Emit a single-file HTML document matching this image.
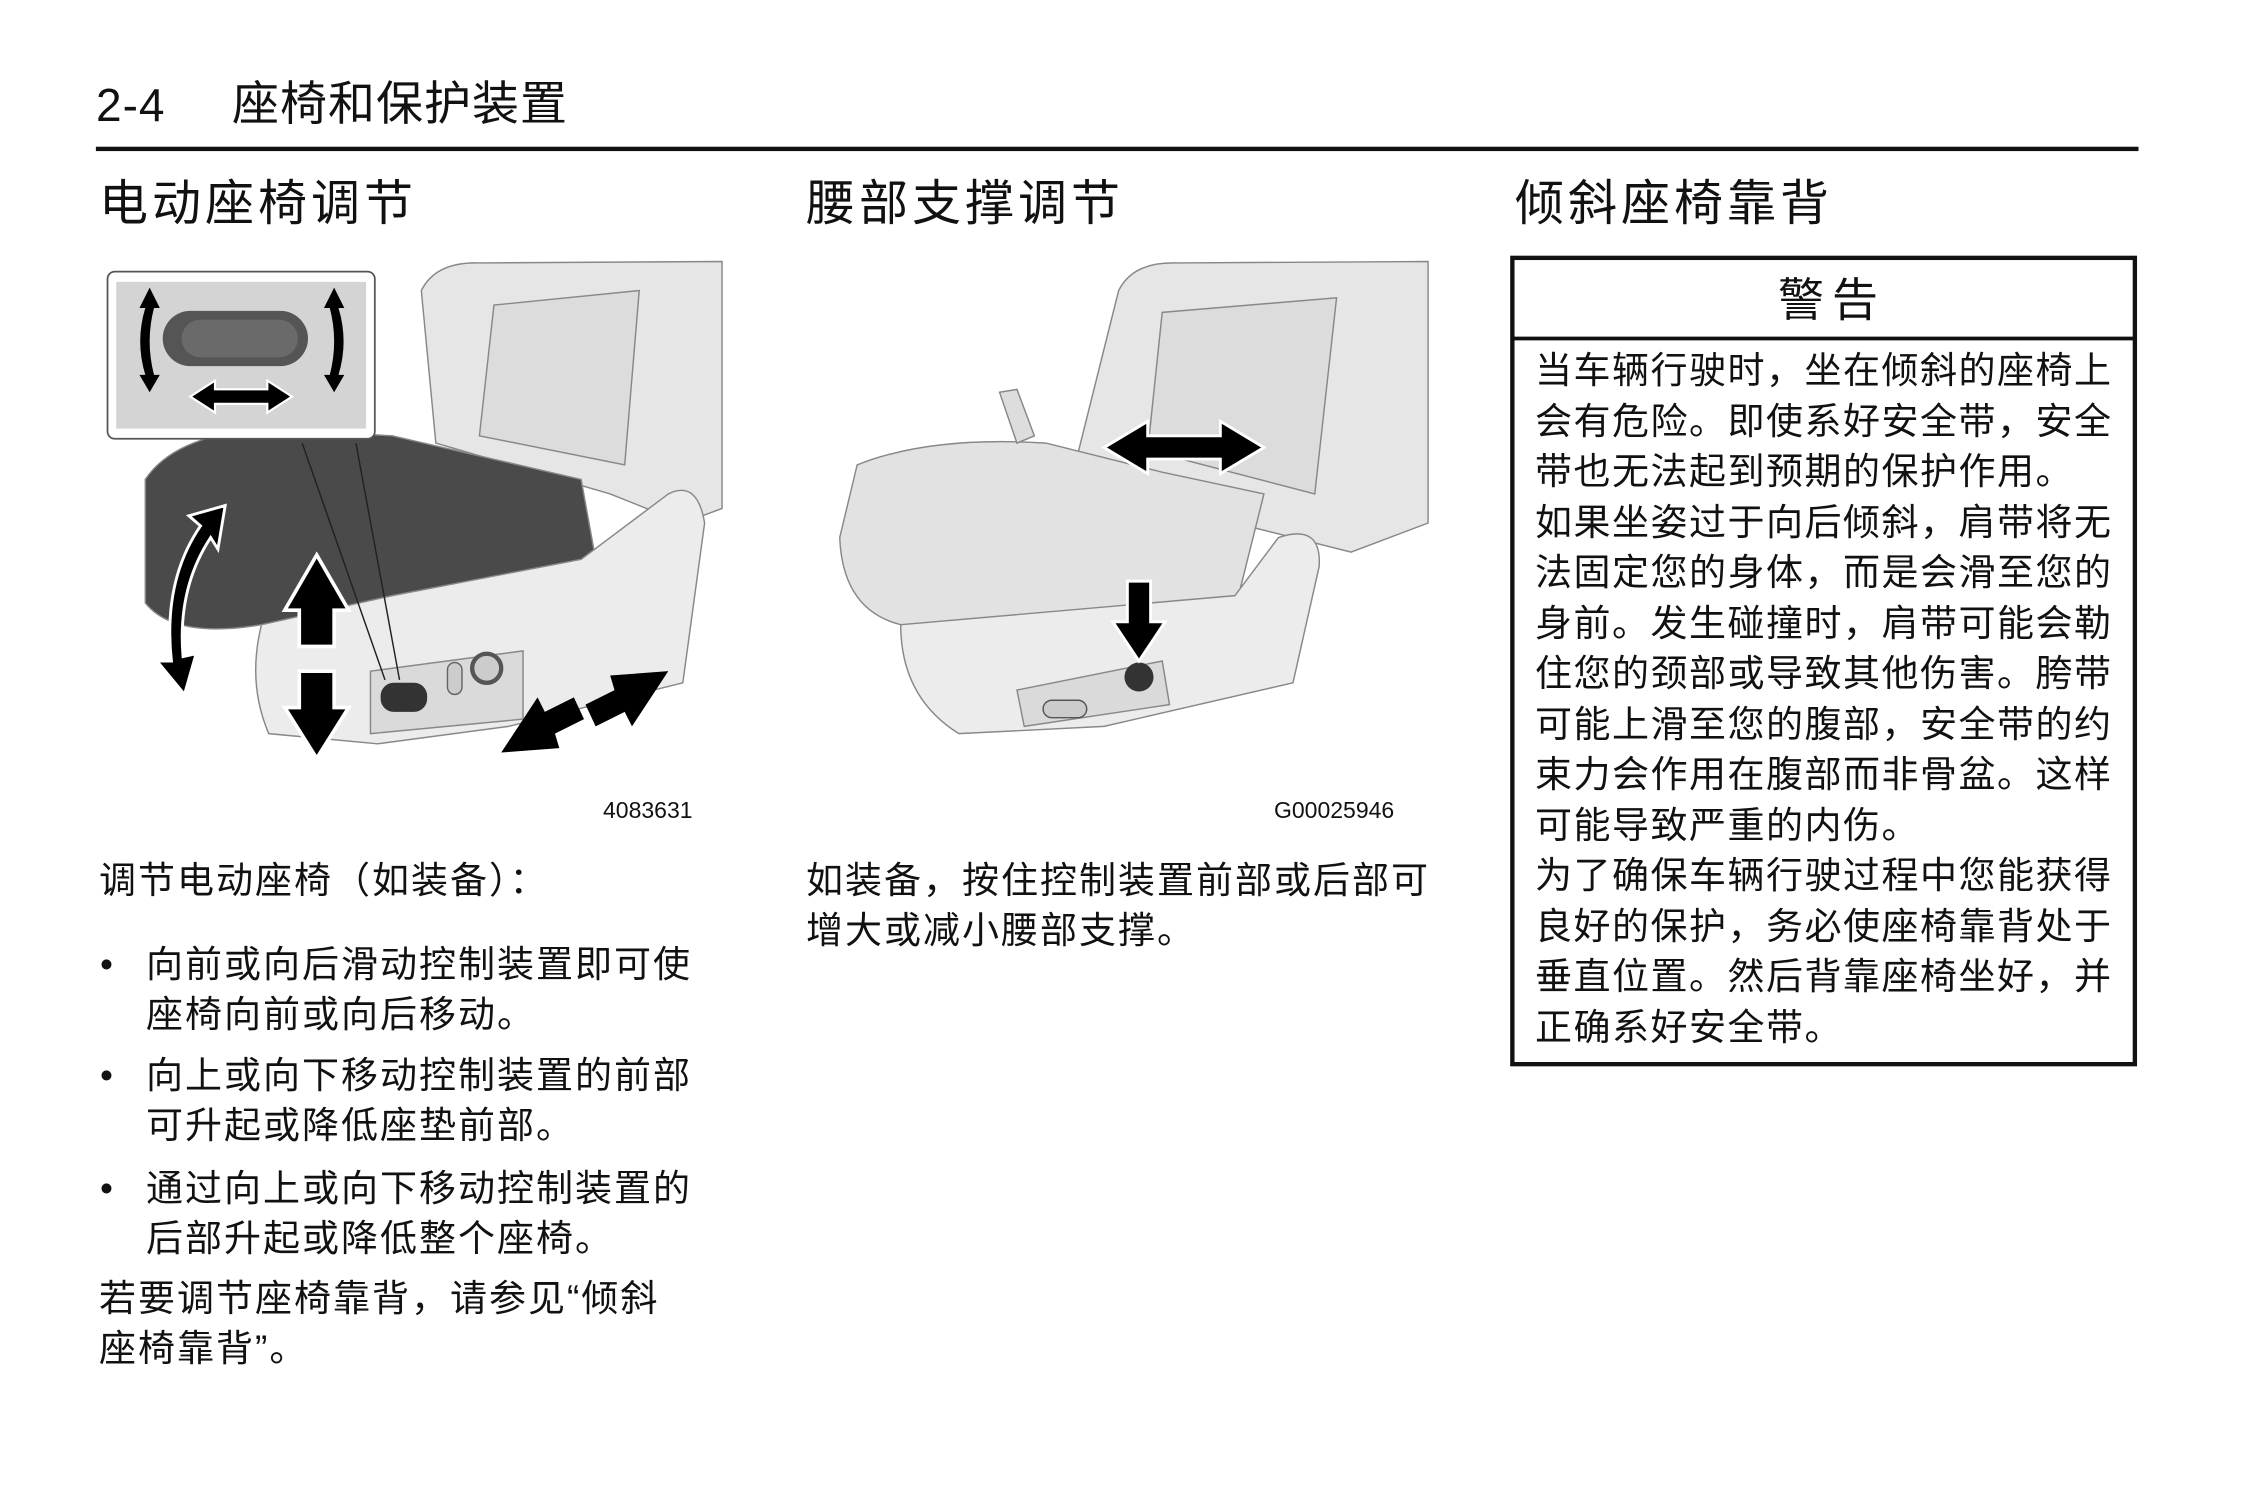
<!DOCTYPE html>
<html><head><meta charset="utf-8"><style>
body{margin:0;width:2245px;height:1500px;background:#fff;position:relative;overflow:hidden;font-family:"Liberation Sans","Noto Sans CJK SC",sans-serif;color:#111}
.t{position:absolute;white-space:nowrap;line-height:1}
.p{position:absolute;font-size:37px;letter-spacing:2px;line-height:50px;white-space:nowrap}
.h{position:absolute;font-size:49px;letter-spacing:4px;line-height:1;white-space:nowrap}
svg{position:absolute;left:0;top:0}
</style></head><body>
<svg width="2245" height="1500" viewBox="0 0 1545.3 1032.5">
<rect x="66" y="101" width="1406" height="3" fill="#111"/>
<!-- IMAGE 1 -->
<g stroke="#888" stroke-width="1">
<path d="M290,200 Q300,180 330,181 L497,180 L497,350 L470,360 L420,340 L300,305 Z" fill="#e6e6e6"/>
<path d="M340,210 L440,200 L430,320 L330,300 Z" fill="#dcdcdc"/>
<path d="M100,330 Q120,300 180,295 L270,300 L400,330 L410,385 L260,420 L180,430 Q120,440 100,415 Z" fill="#4a4a4a"/>
<path d="M180,430 L270,410 L400,385 L460,340 Q480,330 485,360 L470,470 L350,500 L260,512 L185,505 Q170,470 180,430 Z" fill="#ececec"/>
<path d="M255,462 L360,448 L360,495 L255,505 Z" fill="#dadada"/>
</g>
<rect x="262" y="470" width="32" height="20" rx="9" fill="#333"/>
<circle cx="335" cy="460" r="10" fill="#ccc" stroke="#555" stroke-width="3"/>
<rect x="308" y="456" width="10" height="22" rx="5" fill="#ccc" stroke="#666"/>
<line x1="208" y1="305" x2="265" y2="468" stroke="#222" stroke-width="1"/>
<line x1="245" y1="305" x2="275" y2="468" stroke="#222" stroke-width="1"/>
<rect x="74" y="187" width="184" height="115" rx="5" fill="#fff" stroke="#555" stroke-width="1.2"/>
<rect x="80" y="194" width="172" height="101" fill="#d4d4d4"/>
<rect x="112" y="214" width="100" height="38" rx="19" fill="#555"/>
<rect x="125" y="220" width="80" height="26" rx="13" fill="#6a6a6a"/>
<path d="M103,198 L96,212 L100,212 Q93,235 100,258 L96,258 L103,270 L110,258 L106,258 Q100,235 106,212 L110,212 Z" fill="#000"/>
<path d="M230,198 L237,212 L233,212 Q240,235 233,258 L237,258 L230,270 L223,258 L227,258 Q233,235 227,212 L223,212 Z" fill="#000"/>
<path d="M131,273 L148,262 L148,268 L184,268 L184,262 L201,273 L184,284 L184,278 L148,278 L148,284 Z" fill="#000" stroke="#fff" stroke-width="1.5"/>
<path d="M155,348 L130,355 L138,362 Q112,400 118,455 L108,455 L127,478 L135,450 L126,452 Q122,405 145,370 L150,378 Z" fill="#000" stroke="#fff" stroke-width="2"/>
<path d="M218,382 L240,420 L230,420 L230,445 L206,445 L206,420 L196,420 Z" fill="#000" stroke="#fff" stroke-width="2.5"/>
<path d="M218,522 L240,487 L230,487 L230,462 L206,462 L206,487 L196,487 Z" fill="#000" stroke="#fff" stroke-width="2.5"/>
<path d="M345,518 L370,480 L375,490 L395,480 L402,495 L382,505 L385,515 Z M460,462 L435,500 L430,490 L410,500 L403,485 L423,475 L420,465 Z" fill="#000"/>
<!-- IMAGE 2 -->
<g stroke="#888" stroke-width="1">
<path d="M770,200 Q780,180 810,181 L983,180 L983,360 L930,380 L850,360 L740,320 Z" fill="#e6e6e6"/>
<path d="M800,215 L920,205 L905,340 L790,310 Z" fill="#dcdcdc"/>
<path d="M590,320 Q640,300 720,305 L800,325 L870,340 L850,420 L700,440 L620,430 Q580,420 578,370 Z" fill="#e2e2e2"/>
<path d="M620,430 L850,410 L880,370 Q910,360 908,390 L890,470 L760,500 L660,505 Q620,480 620,430 Z" fill="#ececec"/>
<path d="M700,475 L800,455 L805,485 L705,500 Z" fill="#dadada"/>
<path d="M688,270 L700,268 L712,300 L700,305 Z" fill="#ddd"/>
</g>
<circle cx="784" cy="466" r="10" fill="#333"/>
<rect x="718" y="482" width="30" height="12" rx="6" fill="#ccc" stroke="#555"/>
<path d="M760,308 L790,290 L790,300 L840,300 L840,290 L870,308 L840,326 L840,316 L790,316 L790,326 Z" fill="#000" stroke="#fff" stroke-width="2"/>
<path d="M784,455 L766,428 L776,428 L776,400 L792,400 L792,428 L802,428 Z" fill="#000" stroke="#fff" stroke-width="2"/>
<rect x="1041" y="177.5" width="428.5" height="555" fill="none" stroke="#111" stroke-width="3"/>
<line x1="1041" y1="233" x2="1469.5" y2="233" stroke="#111" stroke-width="2.5"/>
</svg>

<div class="t" style="left:96px;top:82px;font-size:46px;letter-spacing:1px">2-4</div>
<div class="t" style="left:232px;top:80px;font-size:47px;letter-spacing:1px">座椅和保护装置</div>

<div class="h" style="left:99px;top:180px">电动座椅调节</div>
<div class="h" style="left:806px;top:180px">腰部支撑调节</div>
<div class="h" style="left:1515px;top:180px">倾斜座椅靠背</div>

<div class="t" style="left:603px;top:799px;font-size:23px">4083631</div>
<div class="t" style="left:1274px;top:799px;font-size:23px">G00025946</div>

<div class="t" style="left:1778px;top:277px;font-size:46px;letter-spacing:8px">警告</div>
<div class="p" style="left:1535px;top:346px;font-size:37px;letter-spacing:1.5px;line-height:50.5px">当车辆行驶时，坐在倾斜的座椅上<br>会有危险。即使系好安全带，安全<br>带也无法起到预期的保护作用。<br>如果坐姿过于向后倾斜，肩带将无<br>法固定您的身体，而是会滑至您的<br>身前。发生碰撞时，肩带可能会勒<br>住您的颈部或导致其他伤害。胯带<br>可能上滑至您的腹部，安全带的约<br>束力会作用在腹部而非骨盆。这样<br>可能导致严重的内伤。<br>为了确保车辆行驶过程中您能获得<br>良好的保护，务必使座椅靠背处于<br>垂直位置。然后背靠座椅坐好，并<br>正确系好安全带。</div>

<div class="p" style="left:99px;top:856px">调节电动座椅（如装备）：</div>
<div class="p" style="left:100px;top:940px">•</div>
<div class="p" style="left:146px;top:940px">向前或向后滑动控制装置即可使<br>座椅向前或向后移动。</div>
<div class="p" style="left:100px;top:1051px">•</div>
<div class="p" style="left:146px;top:1051px">向上或向下移动控制装置的前部<br>可升起或降低座垫前部。</div>
<div class="p" style="left:100px;top:1164px">•</div>
<div class="p" style="left:146px;top:1164px">通过向上或向下移动控制装置的<br>后部升起或降低整个座椅。</div>
<div class="p" style="left:99px;top:1274px">若要调节座椅靠背，请参见“倾斜<br>座椅靠背”。</div>

<div class="p" style="left:806px;top:856px">如装备，按住控制装置前部或后部可<br>增大或减小腰部支撑。</div>
</body></html>
